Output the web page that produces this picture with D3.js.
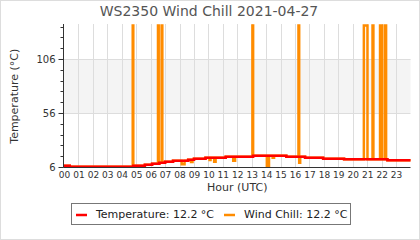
<!DOCTYPE html>
<html>
<head>
<meta charset="utf-8">
<script src="https://cdn.jsdelivr.net/npm/d3@7"></script>
<style>
  body { margin: 0; background: #fff; }
  text { font-family: "DejaVu Sans", sans-serif; }
</style>
</head>
<body>
<div id="container"></div>
<script>
// temperature, step changes (hour of day, °C)
var tempHours  = [0, 0.4, 4.8, 5.6, 6.1, 6.6, 7.0, 7.55, 8.6, 9.0, 9.8, 11.2, 13.1, 15.4, 16.7, 17.95, 19.4, 22.4, 24];
var tempValues = [7.2, 6.3, 7.2, 8.1, 9.0, 10.0, 10.9, 11.8, 12.8, 13.7, 14.6, 15.5, 16.5, 15.5, 14.6, 13.7, 13.1, 12.2, 12.2];

// wind chill samples (hour, °C) - the spikes are bogus readings at the top of the scale
var chillHours  = [0, 0.4, 4.76, 4.8, 5.6, 6.1, 6.51, 6.56, 6.6, 6.76, 6.81, 7.0, 7.55, 8.15, 8.35, 8.6, 8.8, 8.9, 9.0, 9.8, 10.08, 10.15, 10.4, 10.5, 11.2, 11.72, 11.85, 13.05, 13.1, 14.05, 14.2, 14.45, 14.55, 15.4, 16.24, 16.29, 16.36, 16.7, 17.95, 19.4, 20.77, 21.02, 21.37, 21.43, 21.89, 22.05, 22.25, 22.31, 22.4, 24];
var chillValues = [7.2, 6.3, 137, 7.2, 8.1, 9.0, 137, 9.0, 10.0, 137, 10.0, 10.9, 11.8, 8.5, 11.8, 12.8, 10.6, 12.8, 13.7, 14.6, 12.5, 14.6, 10.9, 14.6, 15.5, 11.8, 15.5, 137, 16.5, 7.2, 16.5, 14.6, 16.5, 15.5, 137, 10.0, 15.5, 14.6, 13.7, 13.1, 137, 13.1, 137, 13.1, 137, 13.1, 137, 13.1, 12.2, 12.2];

var hourLabels = d3.range(0, 24);
var yMajor = [6, 56, 106];
var yMinor = d3.range(6, 137, 10);

var width = 420, height = 240;
var plotLeft = 64, plotRight = 410.5, plotTop = 25.5, plotBottom = 167;

var svg = d3.select("#container").append("svg")
    .attr("width", width)
    .attr("height", height);

// outer frame
svg.append("rect")
    .attr("x", 0.5).attr("y", 0.5)
    .attr("width", width - 1).attr("height", height - 1)
    .attr("fill", "#fff")
    .style("stroke", "#ddd");

var x = d3.scaleLinear().domain([0, 24]).range([plotLeft, plotRight]);
var y = d3.scaleLinear().domain([6, 137]).range([plotBottom, plotTop]);

// shaded band between the two upper gridlines
svg.append("rect")
    .attr("x", x(0)).attr("y", y(106))
    .attr("width", x(24) - x(0)).attr("height", y(56) - y(106))
    .attr("fill", "#f4f4f4");

// grid
svg.append("g").selectAll("line").data(hourLabels.slice(1)).join("line")
    .attr("x1", d => Math.round(x(d)) + 0.5).attr("x2", d => Math.round(x(d)) + 0.5)
    .attr("y1", plotTop - 1.5).attr("y2", plotBottom)
    .style("stroke", "#ddd");
svg.append("g").selectAll("line").data(yMajor.slice(1)).join("line")
    .attr("x1", x(0)).attr("x2", x(24))
    .attr("y1", d => Math.round(y(d)) + 0.5).attr("y2", d => Math.round(y(d)) + 0.5)
    .style("stroke", "#ddd");

// series
var tempData = tempHours.map((h, i) => [h, tempValues[i]]);
var chillData = chillHours.map((h, i) => [h, chillValues[i]]);

var line = d3.line()
    .x(d => x(d[0]))
    .y(d => y(d[1]))
    .curve(d3.curveStepAfter);

svg.append("path").datum(chillData)
    .attr("d", line)
    .attr("fill", "none")
    .style("stroke", "#ff8c00")
    .style("stroke-width", 2.5);

svg.append("path").datum(tempData)
    .attr("d", line)
    .attr("fill", "none")
    .style("stroke", "#ff0000")
    .style("stroke-width", 2.5);

// y axis, minor ticks every 10 then labelled major ticks
var yAxis = svg.append("g").attr("transform", "translate(" + (plotLeft - 0.5) + ",0)");
yAxis.append("g").selectAll("line").data(yMinor).join("line")
    .attr("x1", -3).attr("x2", 0)
    .attr("y1", d => Math.round(y(d)) + 0.5).attr("y2", d => Math.round(y(d)) + 0.5)
    .style("stroke", "#333");
yAxis.call(d3.axisLeft(y).tickValues(yMajor).tickSize(5).tickPadding(3));
yAxis.select(".domain").attr("d", "M0," + (plotBottom + 0.5) + "V" + (plotTop - 1.5)).style("stroke", "#333");
yAxis.selectAll(".tick line").style("stroke", "#333");
yAxis.selectAll(".tick text").style("font-size", "10px").style("fill", "#333")
    .style("font-family", "DejaVu Sans");

// x axis
var xAxis = svg.append("g").attr("transform", "translate(0," + (plotBottom + 0.5) + ")");
xAxis.call(d3.axisBottom(x).tickValues(hourLabels).tickSize(0).tickPadding(4)
    .tickFormat(d3.format("02d")));
xAxis.select(".domain").attr("d", "M" + plotLeft + ",0H" + plotRight).style("stroke", "#333");
xAxis.selectAll(".tick text").style("font-size", "9px").style("fill", "#333")
    .style("font-family", "DejaVu Sans");

// titles
svg.append("text")
    .attr("x", 209).attr("y", 16)
    .attr("text-anchor", "middle")
    .style("font-size", "14px").style("fill", "#555")
    .text("WS2350 Wind Chill 2021-04-27");

svg.append("text")
    .attr("transform", "translate(18," + ((plotTop + plotBottom) / 2) + ") rotate(-90)")
    .attr("text-anchor", "middle")
    .style("font-size", "11px").style("fill", "#333")
    .text("Temperature (°C)");

svg.append("text")
    .attr("x", (plotLeft + plotRight) / 2).attr("y", 191)
    .attr("text-anchor", "middle")
    .style("font-size", "11px").style("fill", "#333")
    .text("Hour (UTC)");

// legend
var legendItems = [
    {label: "Temperature: " + tempValues[tempValues.length - 1] + " °C", color: "#ff0000", x: 76},
    {label: "Wind Chill: " + chillValues[chillValues.length - 1] + " °C", color: "#ff8c00", x: 224}
];
svg.append("rect")
    .attr("x", 71.5).attr("y", 203.5)
    .attr("width", 279).attr("height", 21)
    .attr("fill", "#fff")
    .style("stroke", "#777");
var leg = svg.append("g").selectAll("g").data(legendItems).join("g");
leg.append("line")
    .attr("x1", d => d.x).attr("x2", d => d.x + 11)
    .attr("y1", 215).attr("y2", 215)
    .style("stroke", d => d.color)
    .style("stroke-width", 2.5);
leg.append("text")
    .attr("x", d => d.x + 20).attr("y", 218)
    .style("font-size", "11px").style("fill", "#222")
    .text(d => d.label);
</script>
</body>
</html>
